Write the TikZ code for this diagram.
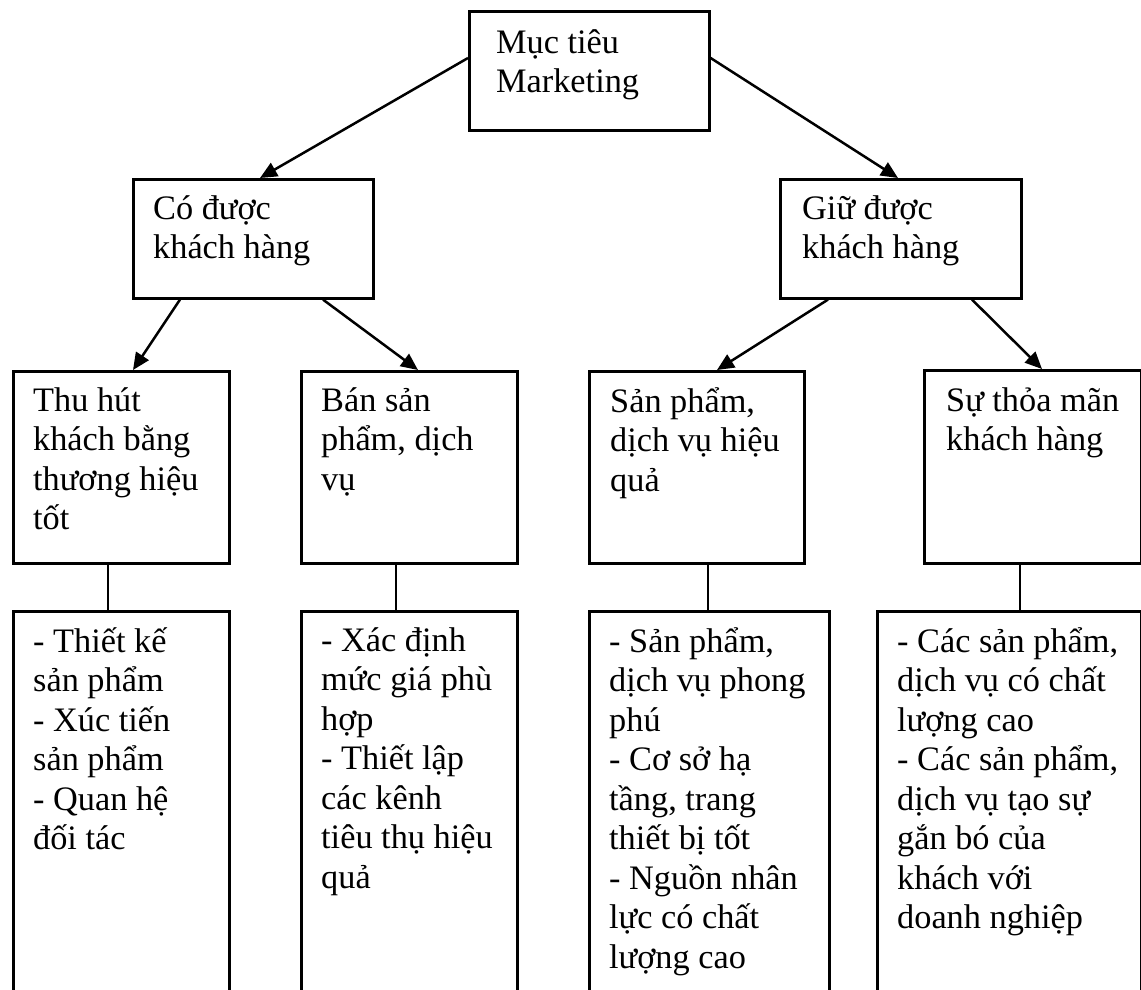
\documentclass[tikz,border=0pt]{standalone}
\usepackage{fontspec}
\setmainfont{Liberation Serif}
\usetikzlibrary{arrows.meta,calc}
\begin{document}
\begin{tikzpicture}[x=1pt,y=-1pt,
  box/.style={draw, line width=2.6pt, rectangle, inner sep=0pt, anchor=north west},
  txt/.style={anchor=north west, align=left, inner sep=0pt, font=\fontsize{34.3}{39.5}\selectfont, execute at begin node={\rule{0pt}{40pt}}},
  arr/.style={line width=2.5pt, -{Triangle[length=17pt,width=15pt]}},
  ln/.style={line width=2.5pt}]
\useasboundingbox (0,0) rectangle (1141,990);
\clip (0,0) rectangle (1141,990);
% boxes
\node[box, minimum width=240pt, minimum height=119pt] (T) at (468,10) {};
\node[box, minimum width=240pt, minimum height=119pt] (C) at (132,178) {};
\node[box, minimum width=241pt, minimum height=119pt] (G) at (779,178) {};
\node[box, minimum width=216pt, minimum height=192pt] (B1) at (12,370) {};
\node[box, minimum width=216pt, minimum height=192pt] (B2) at (300,370) {};
\node[box, minimum width=215pt, minimum height=192pt] (B3) at (588,370) {};
\node[box, minimum width=217pt, minimum height=193pt] (B4) at (923,369) {};
\node[box, minimum width=216pt, minimum height=420pt] (D1) at (12,610) {};
\node[box, minimum width=216pt, minimum height=420pt] (D2) at (300,610) {};
\node[box, minimum width=240pt, minimum height=420pt] (D3) at (588,610) {};
\node[box, minimum width=264pt, minimum height=420pt] (D4) at (876,610) {};
% texts
\node[txt] (tT) at (496,29) {Mục tiêu\\Marketing};
\node[txt] (tC) at (153,195) {Có được\\khách hàng};
\node[txt] (tG) at (802,195) {Giữ được\\khách hàng};
\node[txt] (tB1) at (33,387) {Thu hút\\khách bằng\\thương hiệu\\tốt};
\node[txt] (tB2) at (321,387) {Bán sản\\phẩm, dịch\\vụ};
\node[txt] (tB3) at (610,387) {Sản phẩm,\\dịch vụ hiệu\\quả};
\node[txt] (tB4) at (946,387) {Sự thỏa mãn\\khách hàng};
\node[txt] (tD1) at (33,627) {- Thiết kế\\sản phẩm\\- Xúc tiến\\sản phẩm\\- Quan hệ\\đối tác};
\node[txt] (tD2) at (321,627) {- Xác định\\mức giá phù\\hợp\\- Thiết lập\\các kênh\\tiêu thụ hiệu\\quả};
\node[txt] (tD3) at (609,627) {- Sản phẩm,\\dịch vụ phong\\phú\\- Cơ sở hạ\\tầng, trang\\thiết bị tốt\\- Nguồn nhân\\lực có chất\\lượng cao};
\node[txt] (tD4) at (897,627) {- Các sản phẩm,\\dịch vụ có chất\\lượng cao\\- Các sản phẩm,\\dịch vụ tạo sự\\gắn bó của\\khách với\\doanh nghiệp};
% arrows
\draw[arr] ($(T.north west)+(0,48)$) -- ($(C.north west)+(128,0)$);
\draw[arr] ($(T.north east)+(0,48)$) -- ($(G.north west)+(119,0)$);
\draw[arr] ($(C.south west)+(48,0)$) -- ($(B1.north west)+(121,0)$);
\draw[arr] ($(C.south west)+(191,0)$) -- ($(B2.north west)+(118,0)$);
\draw[arr] ($(G.south west)+(49,0)$) -- ($(B3.north west)+(129,0)$);
\draw[arr] ($(G.south west)+(193,0)$) -- ($(B4.north west)+(119,0)$);
% vertical links
\draw[ln] ($(B1.south west)+(96,0)$) -- ($(D1.north west)+(96,0)$);
\draw[ln] ($(B2.south west)+(96,0)$) -- ($(D2.north west)+(96,0)$);
\draw[ln] ($(B3.south west)+(120,0)$) -- ($(D3.north west)+(120,0)$);
\draw[ln] ($(B4.south west)+(97,0)$) -- ($(D4.north west)+(144,0)$);
\end{tikzpicture}
\end{document}
